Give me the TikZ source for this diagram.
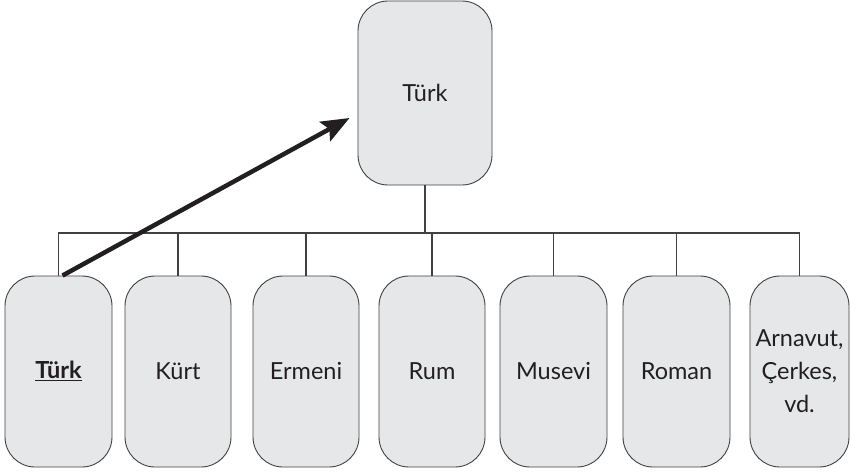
\documentclass[tikz,border=0pt]{standalone}
\usepackage{fontspec}
\setmainfont{Lato}
\usepackage{tikz}
\usetikzlibrary{arrows.meta,positioning}
\usepackage{xcolor}
\definecolor{boxfill}{HTML}{E6E7E8}
\definecolor{boxline}{HTML}{414042}
\definecolor{ink}{HTML}{231F20}
\newcommand\ulword[1]{\setbox0\hbox{#1}\rlap{\rule[-2.5pt]{\wd0}{1.8pt}}\box0}

\begin{document}
\begin{tikzpicture}[x=1pt,y=-1pt]
	\useasboundingbox (0,0) rectangle (851,472);
	\begin{scope}[every node/.style={rectangle,rounded corners=30pt,draw=boxline,line width=0.9pt,fill=boxfill,text=ink,align=center,font=\fontsize{23.5}{33}\selectfont,inner sep=0pt}]
		\node[minimum width=134pt,minimum height=184pt] (0) at (425,93) {Türk};
		\node[minimum width=107pt,minimum height=191pt] (1) at (58.5,371.5) {\ulword{\textbf{Türk}}};
		\node[minimum width=106pt,minimum height=191pt] (2) at (178,371.5) {Kürt};
		\node[minimum width=106pt,minimum height=191pt] (3) at (306,371.5) {Ermeni};
		\node[minimum width=106pt,minimum height=191pt] (4) at (432,371.5) {Rum};
		\node[minimum width=107pt,minimum height=191pt] (5) at (553.5,371.5) {Musevi};
		\node[minimum width=107pt,minimum height=191pt] (6) at (676.5,371.5) {Roman};
		\node[minimum width=99pt,minimum height=191pt] (7) at (799.5,371.5) {Arnavut,\\Çerkes,\\vd.};
	\end{scope}
	\coordinate (bus) at (425,233);
	\begin{scope}[boxline,line width=1.1pt]
		\foreach \i in {1,...,7}
			\draw (0.south) -- (0.south |- bus) -| (\i.north);
	\end{scope}
	\draw[ink,line width=4.5pt,-{Stealth[length=28pt,width=22pt,inset=5pt]}] ([xshift=4pt]1.north) -- ([xshift=-8pt,yshift=-25pt]0.west);
\end{tikzpicture}
\end{document}
